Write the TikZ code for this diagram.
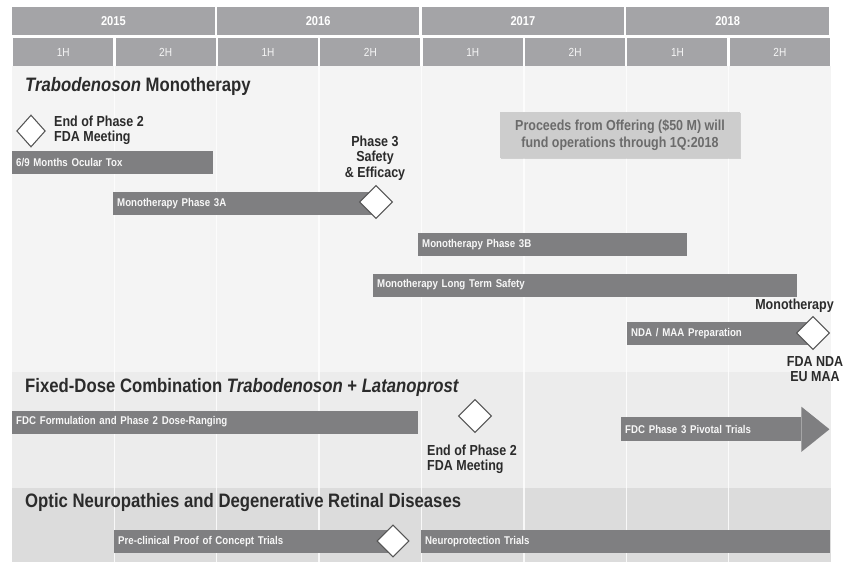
\documentclass[tikz,border=0pt]{standalone}
\usepackage{fontspec}
\setmainfont{Liberation Sans}
\newfontfamily\narrowfont[FakeStretch=0.86]{Liberation Sans}
\usepackage{xcolor}
\usepackage{tikz}
\usetikzlibrary{positioning,shapes.geometric,shadows}

\definecolor{hdrgray}{HTML}{A4A4A7}
\definecolor{bargray}{HTML}{7F7F81}
\definecolor{bgmono}{HTML}{F4F4F4}
\definecolor{bgfdc}{HTML}{ECECEC}
\definecolor{bgoptic}{HTML}{DCDCDC}
\definecolor{boxgray}{HTML}{CDCDCD}
\definecolor{inkgray}{HTML}{2B2B2B}
\definecolor{diamgray}{HTML}{555555}

\begin{document}
\begin{tikzpicture}[
  x=0.3mm, y=-0.3mm,
  yearcell/.style={fill=hdrgray, minimum width=60.7mm, minimum height=8.4mm, inner sep=0, text=white, font=\narrowfont\bfseries\fontsize{11}{12}\selectfont},
  halfcell/.style={fill=hdrgray, minimum width=30mm, minimum height=8.4mm, inner sep=0, text=white!90!hdrgray, font=\narrowfont\fontsize{10}{12}\selectfont},
  sectitle/.style={anchor=base west, inner sep=0, text=inkgray, font=\narrowfont\bfseries\fontsize{16.6}{19}\selectfont},
  bar/.style={fill=bargray, anchor=west, minimum height=6.9mm, inner xsep=1.2mm, inner ysep=0, text width=#1, align=left, text=white!94!bargray, font=\narrowfont\bfseries\fontsize{9.6}{11}\selectfont},
  mile/.style={diamond, draw=diamgray, fill=white, line width=0.9pt, inner sep=0, minimum width=9.9mm, minimum height=9.9mm},
  note/.style={inner sep=0, text=inkgray, font=\narrowfont\bfseries\fontsize{12.4}{13}\selectfont},
  gridline/.style={white, opacity=0.8, line width=1.2pt}
]
\useasboundingbox (0,0) rectangle (843,562);

% Backgrounds of the three sections
\fill[bgmono] (12,66) rectangle (831,562);
\fill[bgfdc] (12,372) rectangle (831,488);
\fill[bgoptic] (12,488) rectangle (831,562);
\foreach \k in {1,...,7}
  \draw[gridline] ({12+\k*102.375},66) -- ({12+\k*102.375},562);

% Header: years and halves
\foreach \yr [count=\i from 0] in {2015,2016,2017,2018} {
  \node[yearcell] (y\yr) at ({113.4+\i*204.75},21) {\yr};
  \node[halfcell] (h\yr a) at ({63.2+\i*204.75},52) {1H};
  \node[halfcell] (h\yr b) at ({165.6+\i*204.75},52) {2H};
}

% Trabodenoson monotherapy
\node[sectitle] (mono) at (25,91) {\itshape Trabodenoson\upshape\ Monotherapy};

\node[bar=57.9mm] (tox) at (12,162.5) {6/9 Months Ocular Tox};
\node[mile, minimum width=8.6mm, minimum height=9.6mm] (eop) at (31,131) {};
\node[note, anchor=north west, align=left] (eoptxt) at (54,116) {End of Phase 2\\FDA Meeting};

\node[bar=76.5mm] (ph3a) at (113,203.5) {Monotherapy Phase 3A};
\node[mile] (safe) at (376,202) {};
\node[note, anchor=north, align=center] (safetxt) at (375,136) {Phase 3\\Safety\\\& Efficacy};

\node[fill=boxgray, minimum width=72mm, minimum height=13.8mm, align=center, text=black!58,
  drop shadow={shadow xshift=0.4mm, shadow yshift=-0.4mm, opacity=0.3},
  font=\narrowfont\bfseries\fontsize{12.4}{14.5}\selectfont] (funds) at (620,135)
  {Proceeds from Offering (\$50 M) will\\fund operations through 1Q:2018};

\node[bar=78.3mm] (ph3b) at (418,244.5) {Monotherapy Phase 3B};
\node[bar=124.8mm] (lts) at (373,285) {Monotherapy Long Term Safety};

\node[bar=53.4mm] (nda) at (627,333.5) {NDA / MAA Preparation};
\node[mile] (file) at (813,333) {};
\node[note, anchor=north east] (filetop) at (834,299) {Monotherapy};
\node[note, anchor=north, align=center] (filebot) at (815,356) {FDA NDA\\EU MAA};

% Fixed-dose combination
\node[sectitle] (fdc) at (25,392) {Fixed-Dose Combination \itshape Trabodenoson\upshape\ + \itshape Latanoprost};

\node[bar=119.4mm] (fdcform) at (12,422) {FDC Formulation and Phase 2 Dose-Ranging};
\node[mile] (fdceop) at (475,416) {};
\node[note, anchor=north west, align=left] (fdceoptxt) at (427,445) {End of Phase 2\\FDA Meeting};

\node[bar=51.6mm, minimum height=7.2mm] (fdcp3) at (621,429) {FDC Phase 3 Pivotal Trials};
\fill[bargray] (fdcp3.north east) -- ++(0,-10) -- ++(28,22.5) -- ++(-28,22.5) -- (fdcp3.south east) -- cycle;

% Optic neuropathies
\node[sectitle] (optic) at (25,507) {Optic Neuropathies and Degenerative Retinal Diseases};

\node[bar=81.3mm] (preclin) at (114,541.5) {Pre-clinical Proof of Concept Trials};
\node[mile, minimum width=9.6mm, minimum height=9.6mm] (poc) at (393,541) {};
\node[bar=120.3mm] (neuro) at (421,541.5) {Neuroprotection Trials};

\end{tikzpicture}
\end{document}
